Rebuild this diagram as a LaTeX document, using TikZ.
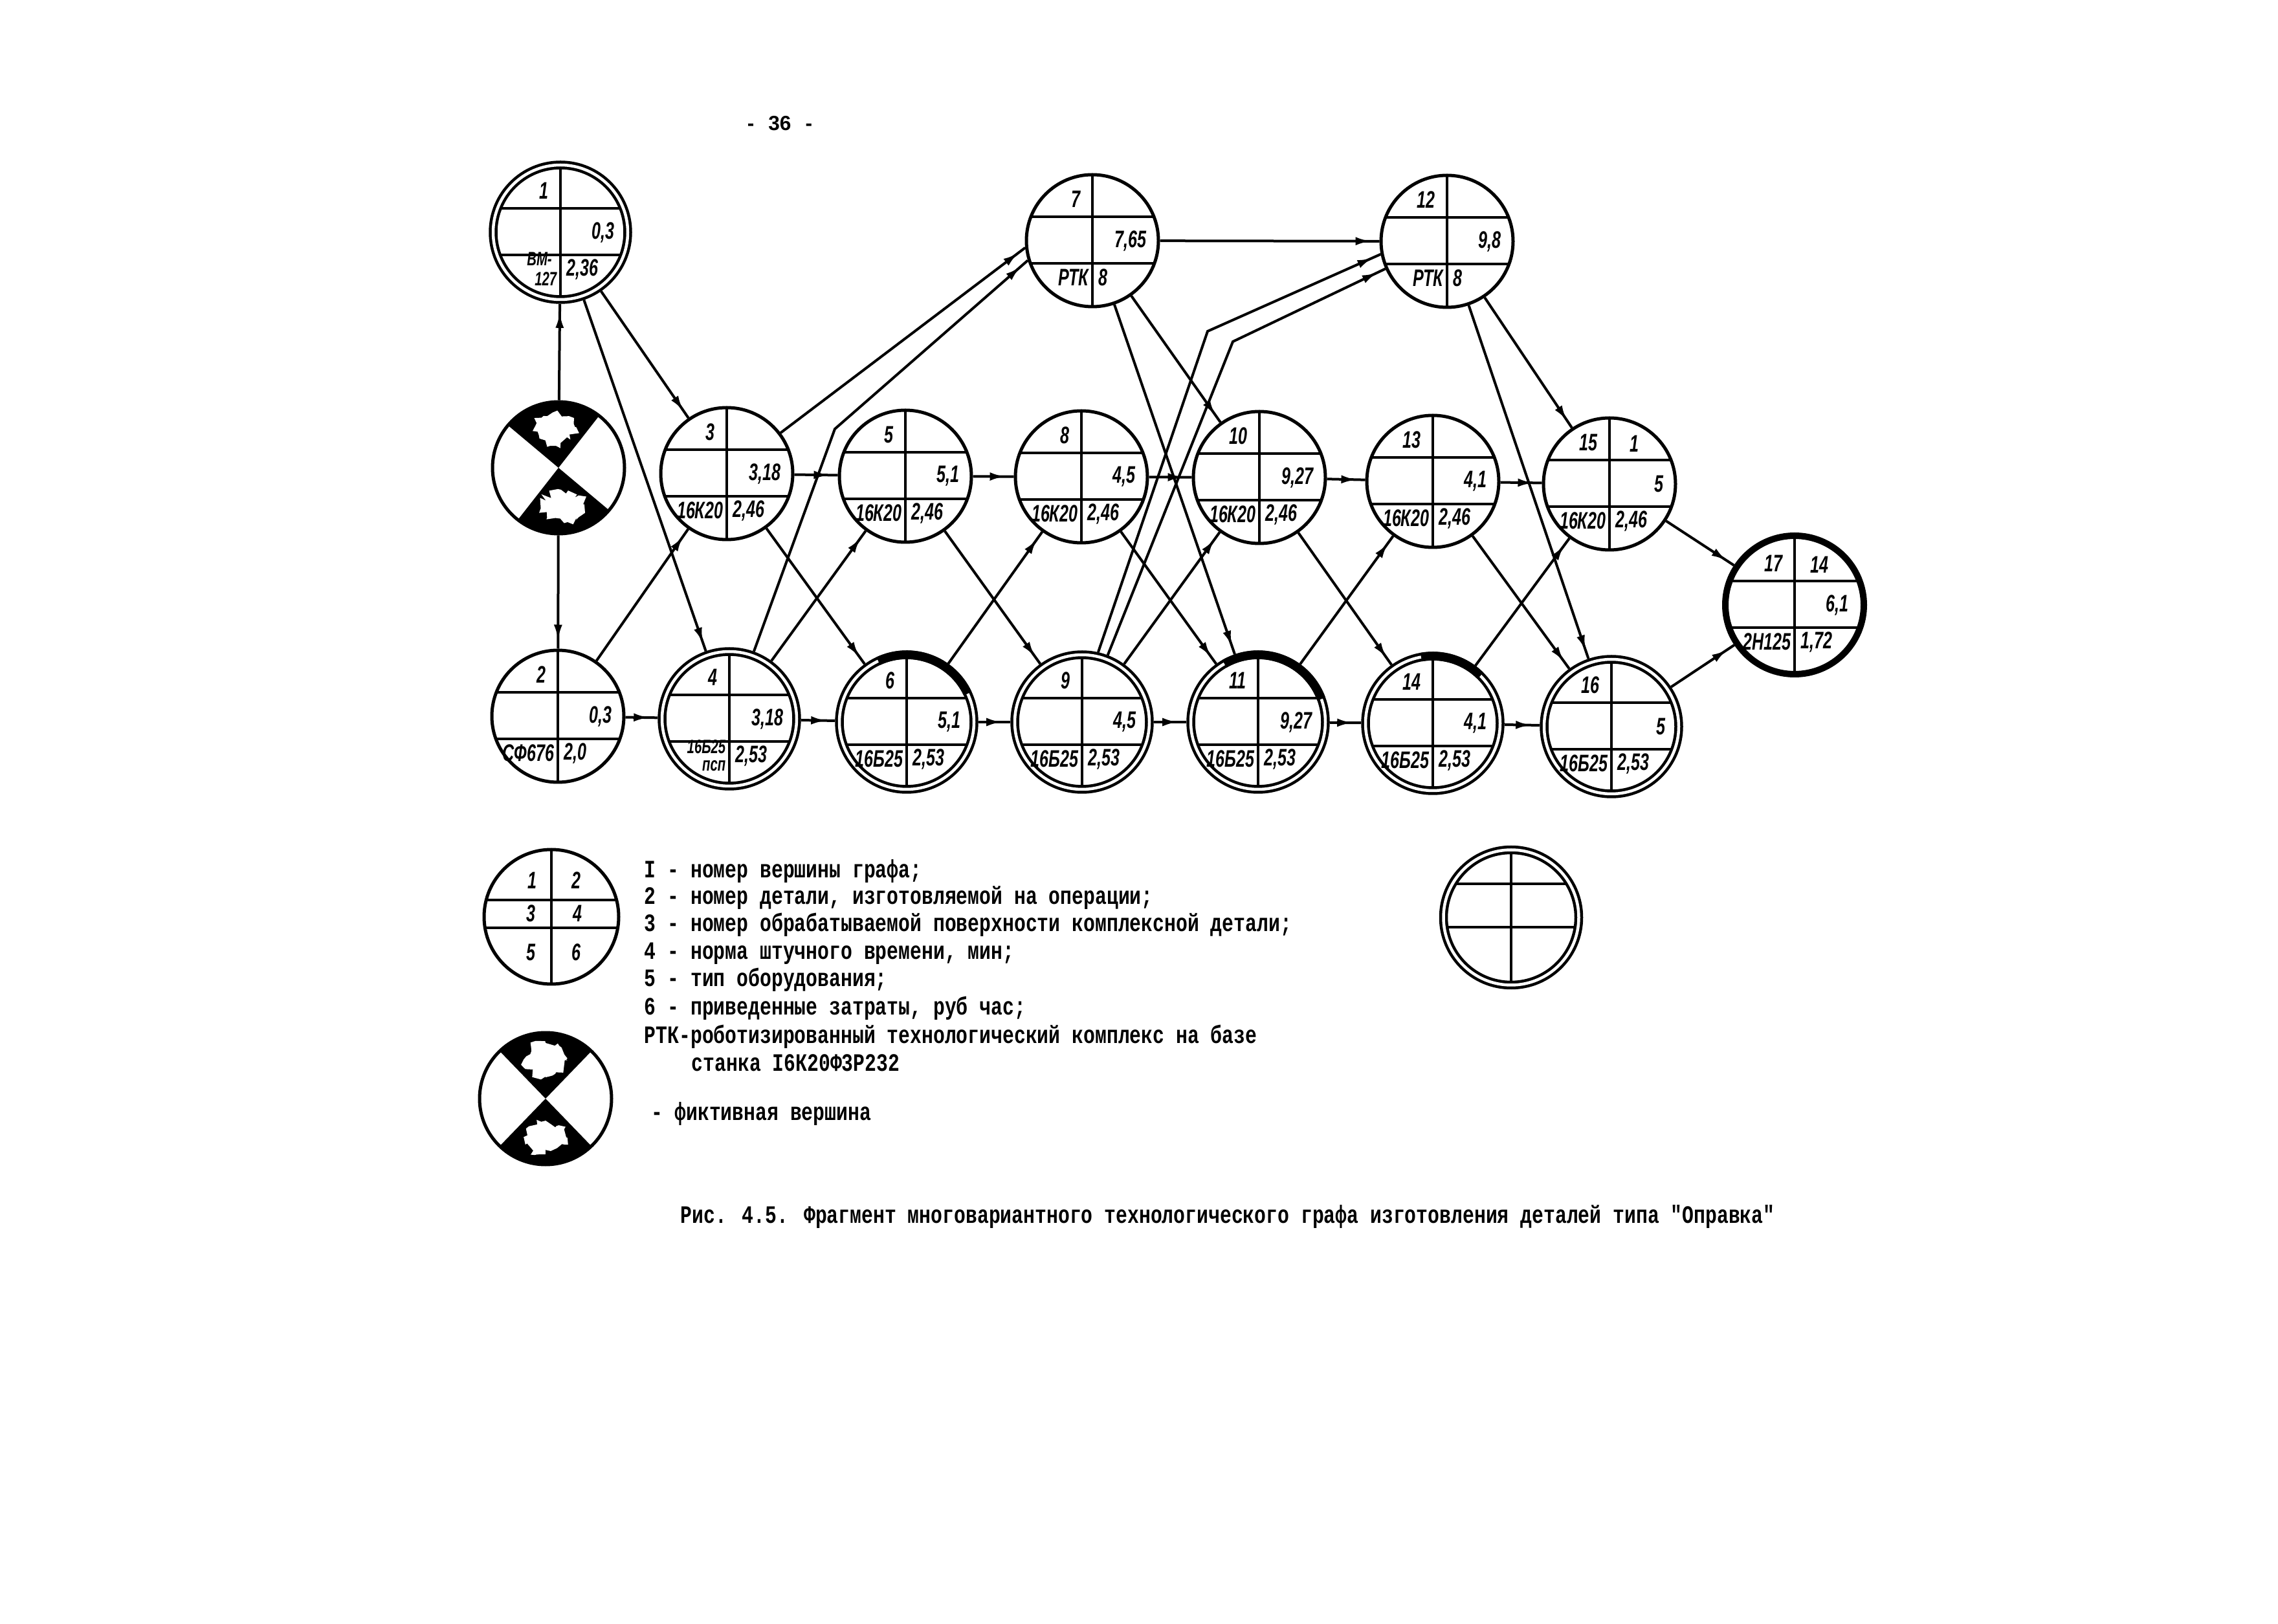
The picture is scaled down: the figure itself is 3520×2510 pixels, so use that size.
\documentclass[tikz,border=0pt]{standalone}
\usepackage{fontspec}
\setmainfont{Liberation Sans}
\newfontfamily\handf[FakeStretch=0.68]{Liberation Sans}
\newfontfamily\typew[FakeStretch=0.77]{Liberation Mono}
\usetikzlibrary{arrows.meta,decorations.markings,decorations.pathmorphing}

\tikzset{
  sgl/.style={circle, inner sep=0pt, minimum size=20.4mm, draw, line width=0.5mm},
  dbl/.style={circle, inner sep=0pt, minimum size=20.8mm, draw, line width=0.45mm, double, double distance=0.45mm, outer sep=0.68mm},
  thk/.style={circle, inner sep=0pt, minimum size=21.4mm, draw, line width=1mm},
  inl/.style={line width=0.4mm},
  arr/.style={line width=0.4mm, postaction={decorate, decoration={markings, mark=at position -1.3mm with {\arrow{Latex[length=2.4mm,width=1.3mm]}}}}},
  num/.style={inner sep=0pt, font=\handf\bfseries\itshape\fontsize{10.5}{11}\selectfont},
  leg/.style={inner sep=0pt, anchor=mid west, font=\typew\bfseries\fontsize{11}{13}\selectfont},
  blob/.style={white, decorate, decoration={random steps, segment length=0.6mm, amplitude=0.7mm}},
  pgnum/.style={inner sep=0pt, font=\bfseries\fontsize{9}{10}\selectfont},
}

% name, position, style, clip radius, top-left, top-right, mid-right, bottom-left, bottom-right
\newcommand\gnode[9]{%
  \node[#3] (#1) at (#2) {};
  \begin{scope}[shift={(#2)}]
    \begin{scope}
      \clip (0,0) circle[radius=#4];
      \draw[inl] (0,-150) -- (0,150);
      \draw[inl] (-150,-37) -- (150,-37);
      \draw[inl] (-150,35) -- (150,35);
    \end{scope}
    \node[num, anchor=east] (#1-tl) at (-18,-64) {#5};
    \node[num] (#1-tr) at (38,-62) {#6};
    \node[num, anchor=east] (#1-mr) at (84,0) {#7};
    \node[num, anchor=east] (#1-bl) at (-5,57) {#8};
    \node[num, anchor=west] (#1-br) at (9,57) {#9};
  \end{scope}}

% fictive vertex: name, position, rotation
\newcommand\fict[3]{%
  \node[sgl] (#1) at (#2) {};
  \begin{scope}[shift={(#2)}, yscale=-1, rotate=#3]
    \fill (0,0) -- (46:102) arc[start angle=46, end angle=134, radius=102] -- cycle;
    \fill (0,0) -- (226:102) arc[start angle=226, end angle=314, radius=102] -- cycle;
    \fill[blob] (90:60) ellipse[x radius=32, y radius=25];
    \fill[blob] (270:60) ellipse[x radius=32, y radius=25];
  \end{scope}}

\newcommand\heavyarc[3]{%
  \begin{scope}[shift={(#1)}, yscale=-1]
    \draw[line width=1.35mm] (#2:104) arc[start angle=#2, end angle=#3, radius=104];
  \end{scope}}

\begin{document}
\begin{tikzpicture}[x=0.1mm, y=-0.1mm]
\pgfmathsetseed{7}
\fill[white] (0,0) rectangle (3520,2510);
\useasboundingbox (0,0) rectangle (3520,2510);

\node[pgnum] (pg) at (1205,191) {-\hspace{2.2mm}36\hspace{2.2mm}-};

% ---------- graph vertices ----------
\gnode{n1}{866,359}{dbl}{99.5}{1}{}{0,3}{{\fontsize{8.5}{8.5}\selectfont\shortstack[l]{ВМ-\\\hspace{1.2mm}127}}}{2,36}
\fict{f1}{863,723}{-6}
\gnode{n2}{862,1107}{sgl}{102}{2}{}{0,3}{СФ676}{2,0}
\gnode{n3}{1123,732}{sgl}{102}{3}{}{3,18}{16К20}{2,46}
\gnode{n4}{1127,1111}{dbl}{99.5}{4}{}{3,18}{{\fontsize{8.5}{8.5}\selectfont\shortstack[r]{16Б25\\псп}}}{2,53}
\gnode{n5}{1399,736}{sgl}{102}{5}{}{5,1}{16К20}{2,46}
\gnode{n6}{1401,1116}{dbl}{99.5}{6}{}{5,1}{16Б25}{2,53}
\gnode{n7}{1688,372}{sgl}{102}{7}{}{7,65}{РТК}{8}
\gnode{n8}{1671,737}{sgl}{102}{8}{}{4,5}{16К20}{2,46}
\gnode{n9}{1672,1116}{dbl}{99.5}{9}{}{4,5}{16Б25}{2,53}
\gnode{n10}{1946,738}{sgl}{102}{10}{}{9,27}{16К20}{2,46}
\gnode{n11}{1944,1116}{dbl}{99.5}{11}{}{9,27}{16Б25}{2,53}
\gnode{n12}{2236,373}{sgl}{102}{12}{}{9,8}{РТК}{8}
\gnode{n13}{2214,744}{sgl}{102}{13}{}{4,1}{16К20}{2,46}
\gnode{n14}{2214,1118}{dbl}{99.5}{14}{}{4,1}{16Б25}{2,53}
\gnode{n15}{2487,748}{sgl}{102}{15}{1}{5}{16К20}{2,46}
\gnode{n16}{2490,1123}{dbl}{99.5}{16}{}{5}{16Б25}{2,53}
\gnode{n17}{2773,935}{thk}{103}{17}{14}{6,1}{2Н125}{1,72}

\heavyarc{1401,1116}{25}{115}
\heavyarc{1944,1116}{20}{120}
\heavyarc{2214,1118}{45}{100}

% ---------- bend points ----------
\coordinate (k47) at (1290,663);
\coordinate (ka) at (1866,512);
\coordinate (kb) at (1905,528);

% ---------- connectors ----------
\draw[arr] (f1) -- (n1);
\draw[arr] (f1) -- (n2);
\draw[arr] (n1) -- (n3);
\draw[arr] (n1) -- (n4);
\draw[arr] (n2) -- (n3);
\draw[arr] (n2) -- (n4);
\draw[arr] (n3) -- (n5);
\draw[arr] (n3) -- (n6);
\draw[arr] (n3) -- (n7.186);
\draw[arr] (n4) -- (n5);
\draw[arr] (n4) -- (n6);
\draw[arr] (n4.70) -- (k47) -- (n7.197);
\draw[arr] (n5) -- (n8);
\draw[arr] (n5) -- (n9);
\draw[arr] (n6) -- (n8);
\draw[arr] (n6) -- (n9);
\draw[arr] (n7) -- (n12);
\draw[arr] (n7) -- (n10);
\draw[arr] (n7) -- (n11);
\draw[arr] (n8) -- (n10);
\draw[arr] (n8) -- (n11);
\draw[arr] (n9) -- (n10);
\draw[arr] (n9) -- (n11);
\draw[arr] (n9.77) -- (ka) -- (n12.191);
\draw[arr] (n9.69) -- (kb) -- (n12.204);
\draw[arr] (n10) -- (n13);
\draw[arr] (n10) -- (n14);
\draw[arr] (n11) -- (n13);
\draw[arr] (n11) -- (n14);
\draw[arr] (n12) -- (n15);
\draw[arr] (n12) -- (n16);
\draw[arr] (n13) -- (n15);
\draw[arr] (n13) -- (n16);
\draw[arr] (n14) -- (n15);
\draw[arr] (n14) -- (n16);
\draw[arr] (n15) -- (n17);
\draw[arr] (n16) -- (n17);

% ---------- legend ----------
\node[sgl, minimum size=20.8mm] (L) at (852,1417) {};
\begin{scope}[shift={(852,1417)}]
  \begin{scope}
    \clip (0,0) circle[radius=104];
    \draw[inl] (0,-150) -- (0,150);
    \draw[inl] (-150,-26) -- (150,-26);
    \draw[inl] (-150,17) -- (150,17);
  \end{scope}
  \node[num] (L-1) at (-30,-56) {1};
  \node[num] (L-2) at (38,-56) {2};
  \node[num] (L-3) at (-32,-5) {3};
  \node[num] (L-4) at (40,-5) {4};
  \node[num] (L-5) at (-32,55) {5};
  \node[num] (L-6) at (38,55) {6};
\end{scope}

\fict{Lf}{843,1698}{0}

\node[dbl, minimum size=20.9mm] (Le) at (2335,1418) {};
\begin{scope}[shift={(2335,1418)}]
  \clip (0,0) circle[radius=100];
  \draw[inl] (0,-150) -- (0,150);
  \draw[inl] (-150,-52) -- (150,-52);
  \draw[inl] (-150,15) -- (150,15);
\end{scope}

\node[leg] (t1) at (995,1347) {I - номер вершины графа;};
\node[leg] (t2) at (995,1388) {2 - номер детали, изготовляемой на операции;};
\node[leg] (t3) at (995,1430) {3 - номер обрабатываемой поверхности комплексной детали;};
\node[leg] (t4) at (995,1473) {4 - норма штучного времени, мин;};
\node[leg] (t5) at (995,1515) {5 - тип оборудования;};
\node[leg] (t6) at (995,1559) {6 - приведенные затраты, руб час;};
\node[leg] (t7) at (995,1603) {РТК-роботизированный технологический комплекс на базе};
\node[leg] (t8) at (1068,1646) {станка I6К20Ф3Р232};
\node[leg] (t9) at (1006,1722) {- фиктивная вершина};

\node[leg] (cap) at (1051,1881) {Рис. 4.5. Фрагмент многовариантного технологического графа изготовления деталей типа "Оправка"};
\end{tikzpicture}
\end{document}
